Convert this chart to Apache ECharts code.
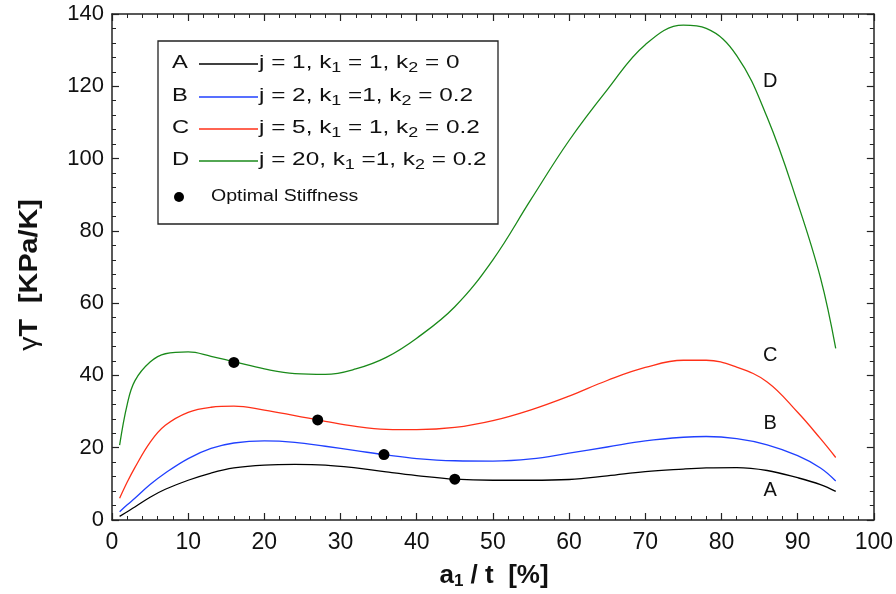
<!DOCTYPE html>
<html>
<head>
<meta charset="utf-8">
<script src="https://cdn.jsdelivr.net/npm/echarts@6/dist/echarts.min.js"></script>
<style>
  html, body { margin: 0; padding: 0; background: #fff; }
  #chart { width: 896px; height: 594px; }
</style>
</head>
<body>
<div id="chart"></div>
<script>
// a1/t [%] sample positions (shared by all curves)
const xVals = [1, 2, 3, 5, 7, 10, 13, 16, 20, 24, 28, 32, 36, 40, 45, 50, 55, 60, 65, 70, 75, 78, 82, 86, 90, 93, 95];
// A: j = 1, k1 = 1, k2 = 0
const curveA = [1.0, 2.3, 3.6, 6.3, 8.5, 11.0, 13.0, 14.4, 15.2, 15.4, 15.2, 14.4, 13.3, 12.3, 11.3, 11.0, 11.0, 11.2, 12.2, 13.4, 14.1, 14.4, 14.5, 13.7, 11.7, 9.8, 7.9];
// B: j = 2, k1 = 1, k2 = 0.2
const curveB = [2.3, 4.2, 6.0, 9.8, 13.0, 17.0, 19.8, 21.3, 21.9, 21.5, 20.4, 19.2, 18.0, 17.0, 16.4, 16.3, 16.9, 18.5, 20.2, 21.9, 22.9, 23.1, 22.5, 20.8, 17.8, 14.4, 10.8];
// C: j = 5, k1 = 1, k2 = 0.2
const curveC = [6.0, 10.5, 14.5, 21.5, 26.2, 29.8, 31.2, 31.5, 30.4, 28.9, 27.3, 25.9, 25.1, 25.0, 25.6, 27.5, 30.5, 34.3, 38.6, 42.2, 44.2, 44.2, 42.3, 38.2, 29.8, 22.5, 17.3];
// D: j = 20, k1 = 1, k2 = 0.2
const curveD = [20.7, 32.0, 38.5, 43.7, 46.0, 46.5, 45.3, 43.8, 41.8, 40.5, 40.3, 41.8, 45.0, 50.3, 59.0, 72.0, 88.7, 105.0, 119.0, 131.5, 136.9, 136.0, 128.5, 111.4, 87.7, 67.0, 47.5];
// optimal stiffness points (A, B, C, D)
const optX = [45, 35.7, 27, 16];
const optY = [11.3, 18.1, 27.7, 43.6];
// curve tags drawn next to the curves
const tagNames = ['A', 'B', 'C', 'D'];
const tagX = [86.4, 86.4, 86.4, 86.4];
const tagY = [8.3, 26.6, 45.4, 121.2];
const seriesColors = ['#000000', '#2040ff', '#ff3018', '#1a8a1a'];
const legendText = [
  ['1', ' = 1', ' = 0'],
  ['2', ' =1', ' = 0.2'],
  ['5', ' = 1', ' = 0.2'],
  ['20', ' =1', ' = 0.2']
];

const chart = echarts.init(document.getElementById('chart'));
const FONT = 'Liberation Sans, Arial, sans-serif';
const curves = [curveA, curveB, curveC, curveD];

const series = curves.map((c, i) => ({
  name: tagNames[i],
  type: 'line',
  data: xVals.map((x, k) => [x, c[k]]),
  smooth: 0.4,
  showSymbol: false,
  lineStyle: { color: seriesColors[i], width: 1.3 },
  z: 3,
  markPoint: {
    symbol: 'circle',
    symbolSize: 0,
    silent: true,
    data: [{ coord: [tagX[i], tagY[i]] }],
    label: {
      show: true,
      formatter: tagNames[i],
      color: '#111',
      fontFamily: FONT,
      fontSize: 20
    }
  }
}));

series.push({
  name: 'Optimal Stiffness',
  type: 'scatter',
  data: optX.map((x, i) => [x, optY[i]]),
  symbol: 'circle',
  symbolSize: 11,
  itemStyle: { color: '#000', opacity: 1 },
  z: 5
});

// legend drawn by hand: letter, line, text with subscripts
const lg = { left: 158, top: 41, w: 340, h: 183 };
const rowY = [63, 96, 128, 160];
const legendEls = [{
  type: 'rect',
  shape: { x: lg.left, y: lg.top, width: lg.w, height: lg.h },
  style: { fill: '#fff', stroke: '#222', lineWidth: 1.3 },
  z: 10
}];
rowY.forEach((y, i) => {
  legendEls.push({
    type: 'text', x: 172, y: y, z: 11, scaleX: 1.25,
    style: { text: tagNames[i], font: '19px ' + FONT, fill: '#111', verticalAlign: 'middle' }
  });
  legendEls.push({
    type: 'line', z: 11,
    shape: { x1: 199, y1: y + 1, x2: 258, y2: y + 1 },
    style: { stroke: seriesColors[i], lineWidth: 1.3 }
  });
  const t = legendText[i];
  legendEls.push({
    type: 'text', x: 259, y: y, z: 11, scaleX: 1.28,
    style: {
      text: '{n|j = ' + t[0] + ', k}{s|1}{n|' + t[1] + ', k}{s|2}{n|' + t[2] + '}',
      verticalAlign: 'middle',
      rich: {
        n: { fontSize: 19, fontFamily: FONT, fill: '#111' },
        s: { fontSize: 14, fontFamily: FONT, fill: '#111', padding: [10, 0, 0, 0] }
      }
    }
  });
});
legendEls.push({
  type: 'circle', z: 11,
  shape: { cx: 179, cy: 197, r: 5 },
  style: { fill: '#000' }
});
legendEls.push({
  type: 'text', x: 211, y: 197, z: 11, scaleX: 1.22,
  style: { text: 'Optimal Stiffness', font: '16px ' + FONT, fill: '#111', verticalAlign: 'middle' }
});
// axis titles
legendEls.push({
  type: 'text', x: 494, y: 576, z: 11,
  style: {
    text: '{b|a}{s|1}{b| / t  [%]}',
    align: 'center', verticalAlign: 'middle',
    rich: {
      b: { fontSize: 26, fontWeight: 'bold', fontFamily: FONT, fill: '#111' },
      s: { fontSize: 17, fontWeight: 'bold', fontFamily: FONT, fill: '#111', padding: [11, 0, 0, 0] }
    }
  }
});
legendEls.push({
  type: 'text', x: 30, y: 275, rotation: Math.PI / 2, scaleX: 1.15, z: 11,
  style: {
    text: '{g|γ}{b|T  [KPa/K]}',
    align: 'center', verticalAlign: 'middle',
    rich: {
      g: { fontSize: 25, fontFamily: FONT, fill: '#111' },
      b: { fontSize: 25, fontWeight: 'bold', fontFamily: FONT, fill: '#111' }
    }
  }
});

const axisLine = { show: true, onZero: false, lineStyle: { color: '#222', width: 1.5 } };
const tick = { show: true, inside: true, length: 7, lineStyle: { color: '#222', width: 1.2 } };
const minor = { show: true, splitNumber: 5, length: 4, lineStyle: { color: '#222', width: 1 } };

chart.setOption({
  animation: false,
  backgroundColor: '#fff',
  grid: { left: 112, right: 20, top: 14, bottom: 74 },
  xAxis: [
    {
      type: 'value', min: 0, max: 100, interval: 10, position: 'bottom',
      axisLine: axisLine, axisTick: tick, minorTick: minor,
      splitLine: { show: false },
      axisLabel: { color: '#111', fontFamily: FONT, fontSize: 23, margin: 11 }
    },
    {
      type: 'value', min: 0, max: 100, interval: 10, position: 'top',
      axisLine: axisLine, axisTick: tick, minorTick: minor,
      splitLine: { show: false }, axisLabel: { show: false }
    }
  ],
  yAxis: [
    {
      type: 'value', min: 0, max: 140, interval: 20, position: 'left',
      axisLine: axisLine, axisTick: tick, minorTick: minor,
      splitLine: { show: false },
      axisLabel: { color: '#111', fontFamily: FONT, fontSize: 22, margin: 8 }
    },
    {
      type: 'value', min: 0, max: 140, interval: 20, position: 'right',
      axisLine: axisLine, axisTick: tick, minorTick: minor,
      splitLine: { show: false }, axisLabel: { show: false }
    }
  ],
  graphic: legendEls,
  series: series
});
</script>
</body>
</html>
